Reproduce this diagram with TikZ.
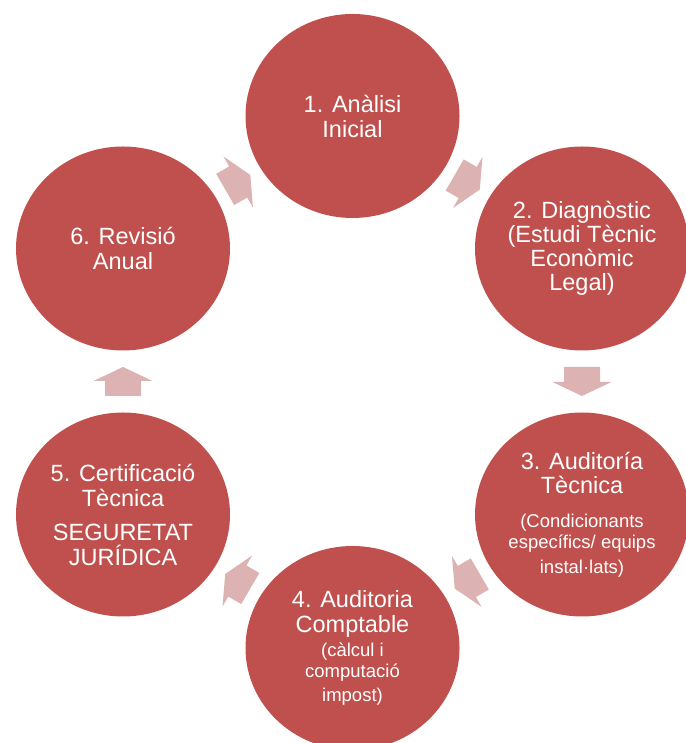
\documentclass[tikz,border=0pt]{standalone}
\usepackage{fontspec}
\setmainfont{Liberation Sans}
\usetikzlibrary{shapes.geometric,calc}
\definecolor{cred}{HTML}{C0504D}
\definecolor{carrow}{RGB}{221,178,178}
\newcommand\smalltext{\fontsize{18.5}{22}\selectfont}
\tikzset{
  stage/.style={ellipse, fill=cred, minimum width=214pt, minimum height=204pt,
    inner sep=0pt, text=white, align=center, font=\fontsize{23.5}{25}\selectfont},
  cyclearrow/.pic={\fill[carrow] (-14.5,-18) -- (0.5,-18) -- (0.5,-29.5) -- (14.5,0)
    -- (0.5,29.5) -- (0.5,18) -- (-14.5,18) -- cycle;}
}
\begin{document}
\begin{tikzpicture}[x=1pt,y=1pt]
\useasboundingbox (0,0) rectangle (685,743);
\node[stage] (c1) at (352.5,627) {1. Anàlisi\\Inicial};
\node[stage] (c2) at (582,494.5) {2. Diagnòstic\\[-1pt](Estudi Tècnic\\[-1pt]Econòmic\\[-1pt]Legal)};
\node[stage] (c3) at (582,228.5) {3. Auditoría\\[-1pt]Tècnica\\[9pt]\smalltext(Condicionants\\[-4pt]\smalltext específics/ equips\\\smalltext instal·lats)};
\node[stage] (c4) at (352.5,95) {4. Auditoria\\Comptable\\[-1pt]\smalltext(càlcul i\\[-4pt]\smalltext computació\\[-1pt]\smalltext impost)};
\node[stage] (c5) at (123,228.5) {5. Certificació\\Tècnica\\[9pt]SEGURETAT\\JURÍDICA};
\node[stage] (c6) at (123,494.5) {6. Revisió\\Anual};
\foreach \a/\b in {c1/c2,c2/c3,c3/c4,c4/c5,c5/c6,c6/c1}
  \path let \p1=($(\b)-(\a)$), \n1={atan2(\y1,\x1)} in
    ($(\a)!0.5!(\b)$) pic[rotate=\n1] {cyclearrow};
\end{tikzpicture}
\end{document}
